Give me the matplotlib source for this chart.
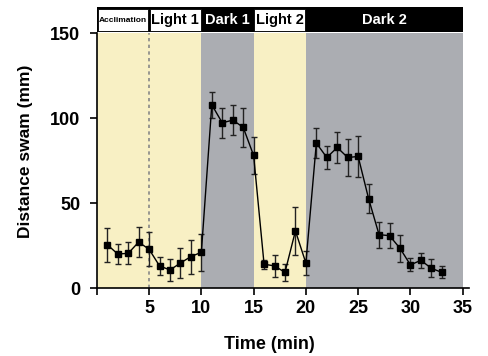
import matplotlib.pyplot as plt
from matplotlib.patches import Rectangle

plt.rcParams['font.family'] = ['Liberation Sans', 'DejaVu Sans']

# data
minutes = list(range(1, 34))
distance = [25.5, 20, 20.4, 27, 22.8, 13, 10.6, 14.7, 18.5, 21,
            107.8, 97.2, 98.8, 94.6, 78, 14, 13, 9.2, 33.6, 14.7,
            85.3, 76.8, 82.7, 76.8, 77.4, 52.6, 31.4, 30.8, 23.4, 13.6,
            16.3, 11.6, 9.2]
error = [10, 6, 6.5, 9, 10, 5.5, 6.5, 9, 10, 11,
         7.5, 8.7, 9, 11.5, 11, 2.7, 6.7, 5, 14, 6.8,
         9, 7, 9, 11, 12, 8.7, 7.7, 7.5, 8, 3.8,
         4.5, 5.3, 3.5]

# phases: label, start, end, light?
phase_names = ["Acclimation", "Light 1", "Dark 1", "Light 2", "Dark 2"]
phase_start = [0, 5, 10, 15, 20]
phase_end = [5, 10, 15, 20, 35]
phase_light = [True, True, False, True, False]

yellow = "#f8f0c4"
grey = "#abadb2"

fig = plt.figure(figsize=(4.89, 3.56), dpi=100)
ax = fig.add_axes([0.198, 0.191, 0.761, 0.716])

for s, e, light in zip(phase_start, phase_end, phase_light):
    ax.axvspan(s, e, color=yellow if light else grey, lw=0, zorder=0)
ax.axvline(5, color="#888888", ls=(0, (2, 2)), lw=1.2, zorder=1)

ax.errorbar(minutes, distance, yerr=error, color="black", ecolor="#222222",
            lw=1, elinewidth=1, capsize=2.5, capthick=1,
            marker="s", markersize=4, zorder=3)

ax.set_xlim(0, 35.6)
ax.set_ylim(0, 150)
ax.set_xticks([0, 5, 10, 15, 20, 25, 30, 35])
ax.set_xticklabels(["", "5", "10", "15", "20", "25", "30", "35"])
ax.set_yticks([0, 50, 100, 150])
ax.tick_params(labelsize=13, width=1.2, length=5)
ax.tick_params(axis="y", pad=7)
for lab in ax.get_xticklabels() + ax.get_yticklabels():
    lab.set_fontweight("bold")
for side in ["top", "right"]:
    ax.spines[side].set_visible(False)
for side in ["left", "bottom"]:
    ax.spines[side].set_linewidth(1.2)
ax.set_xlabel("Time (min)", fontsize=13, fontweight="bold")
ax.xaxis.set_label_coords(0.465, -0.19)
ax.set_ylabel("Distance swam (mm)", fontsize=12.5, fontweight="bold")
ax.yaxis.set_label_coords(-0.172, 0.535)

# header bar
hx = fig.add_axes([0.198, 0.910, 0.761, 0.070])
hx.set_xlim(0, 35.6)
hx.set_ylim(0, 1)
hx.axis("off")
hx.add_patch(Rectangle((0, 0), 35, 1, color="black", lw=0))
for name, s, e, light in zip(phase_names, phase_start, phase_end, phase_light):
    if light:
        hx.add_patch(Rectangle((s + 0.08, 0.06), e - s - 0.16, 0.88,
                               facecolor="white", edgecolor="black", lw=0.6))
    size = 6 if name == "Acclimation" else 10.5
    hx.text((s + e) / 2, 0.47, name, ha="center", va="center",
            fontsize=size, fontweight="bold",
            color="black" if light else "white")

fig.savefig("out.png", dpi=100)
